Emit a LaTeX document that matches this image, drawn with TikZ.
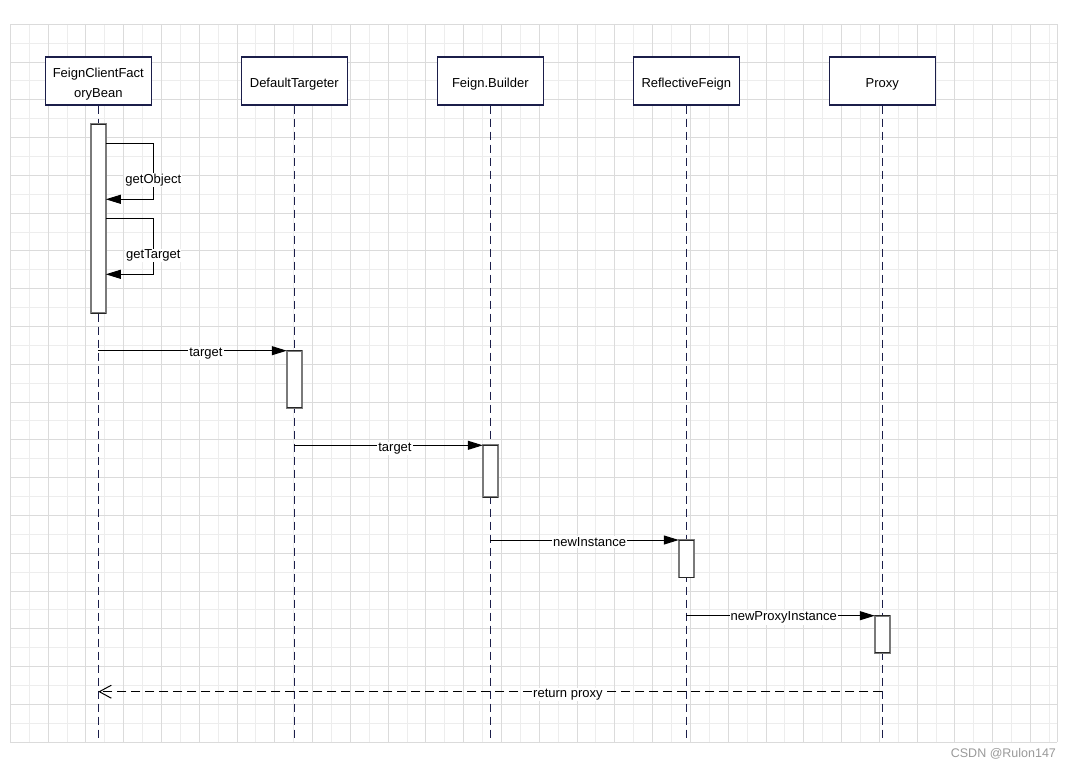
\documentclass[tikz,border=0pt]{standalone}
\usepackage{fontspec}
\setmainfont{Liberation Sans}
\usetikzlibrary{arrows.meta}
\definecolor{navy}{HTML}{1B1E4A}
\definecolor{gmaj}{HTML}{DBDBDB}
\definecolor{gmin}{HTML}{EDEDED}
\definecolor{bargray}{HTML}{7A7A7A}
\definecolor{wm}{HTML}{9A9A9A}
\newcommand{\lowertext}[1]{\raisebox{-3pt}[\height][\depth]{#1}}
\tikzset{
  head/.style={draw=navy, line width=1.2pt, fill=white, minimum width=106pt, minimum height=48pt, inner sep=2pt, align=center, font=\fontsize{13}{20}\selectfont, text=black},
  lifeline/.style={draw=navy, line width=1.4pt, dash pattern=on 8pt off 5pt},
  actbar/.style={draw=bargray, line width=1.7pt, fill=white, minimum width=15pt, inner sep=0pt, outer sep=0pt, anchor=north},
  barcap/.style={draw=black!85, line width=0.9pt},
  msg/.style={draw=black, line width=1pt, -{Triangle[length=15pt,width=9pt]}},
  ret/.style={draw=black, line width=1pt, dash pattern=on 9pt off 5pt, -{Straight Barb[length=12pt,width=13pt]}},
  lbl/.style={fill=white, inner sep=1pt, font=\fontsize{13}{15}\selectfont, text=black}
}
\begin{document}
\begin{tikzpicture}[x=1pt,y=-1pt]
\useasboundingbox (0,0) rectangle (1075,770);
\fill[white] (0,0) rectangle (1075,770);
% grid
\foreach \k in {1,3,...,55} {\draw[gmin, line width=1pt] ({10.4+\k*18.89},24.3) -- ({10.4+\k*18.89},742.1);}
\foreach \k in {1,3,...,37} {\draw[gmin, line width=1pt] (10.4,{24.3+\k*18.89}) -- (1057.3,{24.3+\k*18.89});}
\foreach \k in {0,2,...,54} {\draw[gmaj, line width=1pt] ({10.4+\k*18.89},24.3) -- ({10.4+\k*18.89},742.1);}
\foreach \k in {0,2,...,38} {\draw[gmaj, line width=1pt] (10.4,{24.3+\k*18.89}) -- (1057.3,{24.3+\k*18.89});}
\draw[gmaj, line width=1pt] (1057.3,24.3) -- (1057.3,742.1);
% headers
\node[head] (h1) at (98.3,81) {\lowertext{\begin{tabular}{@{}c@{}}FeignClientFact\\oryBean\end{tabular}}};
\node[head] (h2) at (294.3,81) {\lowertext{DefaultTargeter}};
\node[head] (h3) at (490.3,81) {\lowertext{Feign.Builder}};
\node[head] (h4) at (686.3,81) {\lowertext{ReflectiveFeign}};
\node[head] (h5) at (882.3,81) {\lowertext{Proxy}};
% lifeline ends
\coordinate (e1) at (98.3,742);
\coordinate (e2) at (294.3,742);
\coordinate (e3) at (490.3,742);
\coordinate (e4) at (686.3,742);
\coordinate (e5) at (882.3,742);
\foreach \i in {1,...,5} {\draw[lifeline] (h\i.south) -- (e\i);}
% activation bars
\node[actbar, minimum height=188.7pt] (b1) at (98.3,124.3) {};
\node[actbar, minimum height=57pt] (b2) at (294.3,350.7) {};
\node[actbar, minimum height=51.7pt] (b3) at (490.3,445.3) {};
\node[actbar, minimum height=37.5pt] (b4) at (686.3,540) {};
\node[actbar, minimum height=37pt] (b5) at (882.3,615.7) {};
\foreach \i in {1,...,5} {
  \draw[barcap] (b\i.north west) -- (b\i.north east);
  \draw[barcap] (b\i.south west) -- (b\i.south east);
}
% self calls
\draw[msg] (b1.east |- 0,143.3) -| (153.3,171) |- (b1.east |- 0,199.3);
\node[lbl] (l1) at (153.3,180) {getObject};
\draw[msg] (b1.east |- 0,218.3) -| (153.3,246) |- (b1.east |- 0,274.3);
\node[lbl] (l2) at (153.3,255.5) {getTarget};
% messages
\draw[msg] (h1 |- b2.north) -- (b2.north west) node[lbl, pos=0.571, yshift=-3pt] {target};
\draw[msg] (h2 |- b3.north) -- (b3.north west) node[lbl, pos=0.534, yshift=-3pt] {target};
\draw[msg] (h3 |- b4.north) -- (b4.north west) node[lbl, pos=0.527, yshift=-2pt] {newInstance};
\draw[msg] (h4 |- b5.north) -- (b5.north west) node[lbl, pos=0.517, yshift=-2pt] {newProxyInstance};
\coordinate (r5) at (882.3,691.7);
\coordinate (r1) at (98.3,691.7);
\draw[ret] (r5) -- (r1) node[lbl, pos=0.401, yshift=-2.5pt] {return proxy};
% watermark
\node[font=\fontsize{12.5}{14}\selectfont, text=wm, anchor=east] (wmk) at (1059.5,754.3) {CSDN @Rulon147};
\end{tikzpicture}
\end{document}
